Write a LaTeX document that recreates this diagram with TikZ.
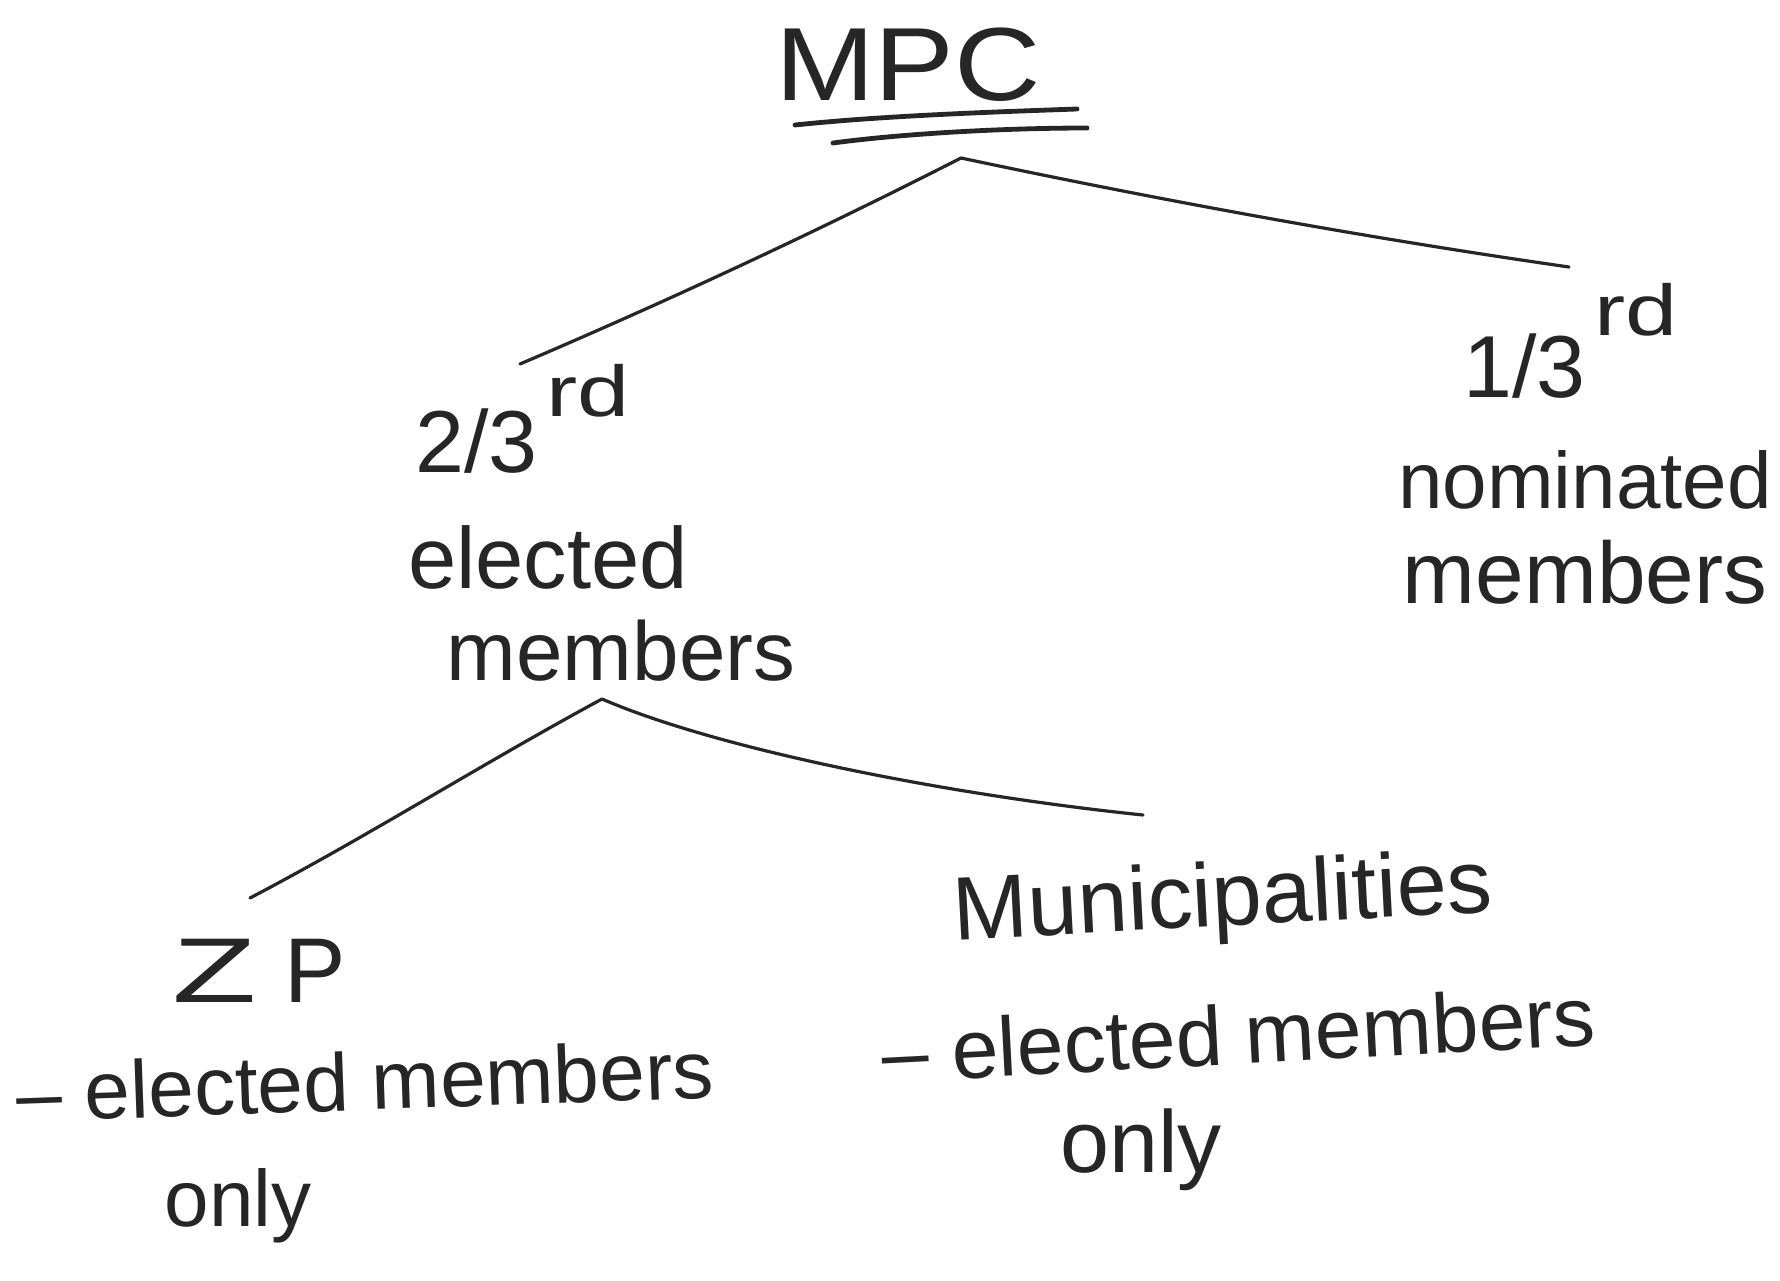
\documentclass[tikz,border=0pt]{standalone}
\usepackage{fontspec}
\setmainfont{Liberation Sans}
\begin{document}
\begin{tikzpicture}[x=0.5pt,y=-0.5pt,
  lbl/.style={inner sep=0pt, anchor=base, text=black!85},
  fs/.style={font=\fontsize{#1}{#1}\selectfont},
  conn/.style={line width=1.6pt, black!85, line cap=round},
  ul/.style={line width=2.4pt, black!85, line cap=round}]
\useasboundingbox (0,0) rectangle (1780,1280);
\fill[white] (0,0) rectangle (1780,1280);

% title
\node[lbl, fs=52] (mpc) at (908,100) {\scalebox{1.15}[1]{MPC}};
\coordinate (ula) at (795,125);
\coordinate (ulb) at (1077,109);
\coordinate (ulc) at (833,143);
\coordinate (uld) at (1087,128);
\draw[ul] (ula) .. controls (880,116) and (990,112) .. (ulb);
\draw[ul] (ulc) .. controls (900,134) and (1000,128) .. (uld);

% upper branches
\coordinate (topj) at (961,158);
\coordinate (leftend) at (520,364);
\coordinate (rightend) at (1569,267);
\draw[conn] (topj) .. controls (820,230) and (670,300) .. (leftend);
\draw[conn] (topj) .. controls (1164,201) and (1367,238) .. (rightend);

% left label: 2/3rd elected members
\node[lbl, fs=44, anchor=base west] (twothirds) at (415,472)
  {2/3\hspace{0.1em}\raisebox{28pt}{\fontsize{36}{36}\selectfont\scalebox{1.3}[1]{rd}}};
\node[lbl, fs=43.4] (elected1) at (548,588) {elected};
\node[lbl, fs=41.8] (members1) at (621,680) {members};

% right label: 1/3rd nominated members
\node[lbl, fs=44, anchor=base west] (onethird) at (1463,397)
  {1/3\hspace{0.1em}\raisebox{31pt}{\fontsize{36}{36}\selectfont\scalebox{1.3}[1]{rd}}};
\node[lbl, fs=40] (nominated) at (1585,508) {nominated};
\node[lbl, fs=43.7] (members2) at (1585,603) {members};

% lower branches
\coordinate (lowj) at (602,699);
\coordinate (zpend) at (250,898);
\coordinate (munend) at (1143,815);
\draw[conn] (lowj) .. controls (480,765) and (370,835) .. (zpend);
\draw[conn] (lowj) .. controls (720,750) and (950,795) .. (munend);

% ZP
\node[lbl, fs=46] (zp) at (259,1002) {\scalebox{1.5}[1]{Z}\hspace{0.3em}P};
\node[lbl, fs=41, rotate=2] (zpdesc) at (366,1110) {– elected members};
\node[lbl, fs=40] (zponly) at (238,1226) {only};

% Municipalities
\node[lbl, fs=45, rotate=3] (munic) at (1224,926) {Municipalities};
\node[lbl, fs=42, rotate=3] (mundesc) at (1240,1064) {– elected members};
\node[lbl, fs=44] (munonly) at (1141,1172) {only};
\end{tikzpicture}
\end{document}
